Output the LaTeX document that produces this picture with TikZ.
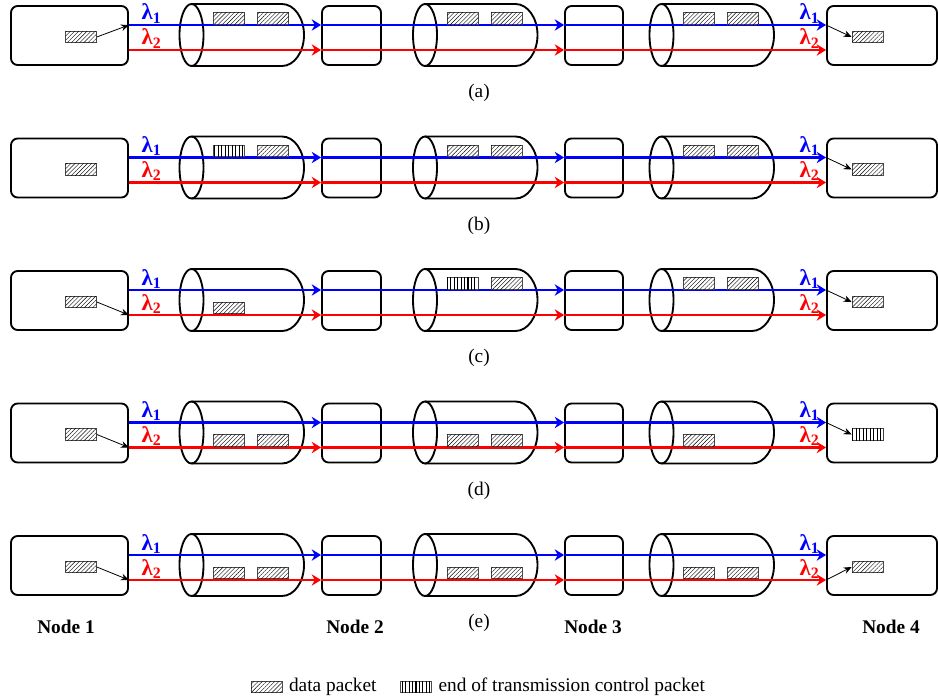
\documentclass[tikz,border=0pt]{standalone}
\usepackage{fontspec}
\setmainfont{Liberation Serif}
\usetikzlibrary{arrows.meta,patterns.meta}

\newcommand\pxu{0.75pt}
% one fibre link: centre of its front ellipse, top of the row
\newcommand\fibre[2]{%
  \draw[link] (#1,#2+4) -- (#1+90.5,#2+4)
    arc[start angle=90,end angle=-90,x radius=22*\pxu,y radius=31*\pxu]
    -- (#1,#2+66);
  \draw[link] (#1,#2+4)
    arc[start angle=90,end angle=450,x radius=12*\pxu,y radius=31*\pxu];
}

\begin{document}
\fontsize{14.5}{17}\selectfont
\begin{tikzpicture}
        [x=\pxu, y=-\pxu, >=Stealth,
        nodebox/.style={draw, line width=1.4pt, rounded corners=5pt,
          minimum height=59*\pxu, inner sep=0pt},
        link/.style={line width=1.4pt},
        packet/.style={draw=black!70, line width=0.5pt, fill=white, inner sep=0pt,
          minimum width=31*\pxu, minimum height=11.5*\pxu},
        data/.style={packet, postaction={pattern={Lines[angle=45,distance=2.2pt,line width=0.3pt]}}},
        eot/.style={packet, postaction={pattern={Lines[angle=90,distance=2.6pt,line width=0.8pt]}}},
        lam1/.style={blue, line width=1.6pt, -{Stealth[length=7pt,width=8.5pt]}},
        lam2/.style={lam1, red},
        hop/.style={line width=0.6pt, -{Stealth[length=6pt,width=5pt]}},
        lamtxt/.style={anchor=base west, font=\fontsize{17}{20}\selectfont\bfseries}]
        \useasboundingbox (0,0) rectangle (938,699);

        % the five snapshots share nodes, fibres and wavelengths
        \foreach \y/\tag in {0/a,132.5/b,265/c,397.5/d,530/e}{
          \node[nodebox, minimum width=117*\pxu] (n1-\tag) at (69.5,\y+35.5) {};
          \node[nodebox, minimum width=59*\pxu] (n2-\tag) at (351.5,\y+35.5) {};
          \node[nodebox, minimum width=58*\pxu] (n3-\tag) at (594,\y+35.5) {};
          \node[nodebox, minimum width=110*\pxu] (n4-\tag) at (882,\y+35.5) {};
          \fibre{191.5}{\y}
          \fibre{425}{\y}
          \fibre{661.5}{\y}
          \coordinate (w1-\tag) at (0,\y+25);
          \coordinate (w2-\tag) at (0,\y+50);
          \draw[lam1] (n1-\tag.east |- w1-\tag) -- (n2-\tag.west |- w1-\tag);
          \draw[lam1] (n2-\tag.west |- w1-\tag) -- (n3-\tag.west |- w1-\tag);
          \draw[lam1] (n3-\tag.west |- w1-\tag) -- (n4-\tag.west |- w1-\tag);
          \draw[lam2] (n1-\tag.east |- w2-\tag) -- (n2-\tag.west |- w2-\tag);
          \draw[lam2] (n2-\tag.west |- w2-\tag) -- (n3-\tag.west |- w2-\tag);
          \draw[lam2] (n3-\tag.west |- w2-\tag) -- (n4-\tag.west |- w2-\tag);
          \node[lamtxt, text=blue] (l1in-\tag) at (135,\y+20) {λ\textsubscript{1}};
          \node[lamtxt, text=red] (l2in-\tag) at (135,\y+45) {λ\textsubscript{2}};
          \node[lamtxt, text=blue] (l1out-\tag) at (793,\y+20) {λ\textsubscript{1}};
          \node[lamtxt, text=red] (l2out-\tag) at (793,\y+45) {λ\textsubscript{2}};
          \node (cap-\tag) at (479,\y+93) {(\tag)};
        }

        % (a)
        \node[data] (a-in) at (81,37) {};
        \node[data] (a-out) at (867.5,37) {};
        \foreach \x [count=\i] in {229,273,462.5,506.5,699,743}
          \node[data] (a-f\i) at (\x,18.5) {};
        \draw[hop] (a-in.east) -- (n1-a.east |- w1-a);
        \draw[hop] (n4-a.west |- w1-a) -- (a-out.west);

        % (b)
        \node[data] (b-in) at (81,169.5) {};
        \node[data] (b-out) at (867.5,169.5) {};
        \node[eot] (b-eot) at (229,151) {};
        \foreach \x [count=\i] in {273,462.5,506.5,699,743}
          \node[data] (b-f\i) at (\x,151) {};
        \draw[hop] (n4-b.west |- w1-b) -- (b-out.west);

        % (c)
        \node[data] (c-in) at (81,302) {};
        \node[data] (c-out) at (867.5,302) {};
        \node[data] (c-f0) at (229,308) {};
        \node[eot] (c-eot) at (462.5,283.5) {};
        \foreach \x [count=\i] in {506.5,699,743}
          \node[data] (c-f\i) at (\x,283.5) {};
        \draw[hop] (c-in.east) -- (n1-c.east |- w2-c);
        \draw[hop] (n4-c.west |- w1-c) -- (c-out.west);

        % (d)
        \node[data] (d-in) at (81,434.5) {};
        \node[eot] (d-eot) at (867.5,434.5) {};
        \foreach \x [count=\i] in {229,273,462.5,506.5,699}
          \node[data] (d-f\i) at (\x,440.5) {};
        \draw[hop] (d-in.east) -- (n1-d.east |- w2-d);
        \draw[hop] (n4-d.west |- w1-d) -- (d-eot.west);

        % (e)
        \node[data] (e-in) at (81,567) {};
        \node[data] (e-out) at (867.5,567) {};
        \foreach \x [count=\i] in {229,273,462.5,506.5,699,743}
          \node[data] (e-f\i) at (\x,573) {};
        \draw[hop] (e-in.east) -- (n1-e.east |- w2-e);
        \draw[hop] (n4-e.west |- w2-e) -- (e-out.west);

        \node[font=\bfseries] (lab1) at (66,627) {Node 1};
        \node[font=\bfseries] (lab2) at (355,627) {Node 2};
        \node[font=\bfseries] (lab3) at (593,627) {Node 3};
        \node[font=\bfseries] (lab4) at (891,627) {Node 4};

        % key
        \node[data] (key1) at (266.5,687) {};
        \node[anchor=west] (key1-txt) at (key1.east) {data packet};
        \node[eot] (key2) at (416,687) {};
        \node[anchor=west] (key2-txt) at (key2.east) {end of transmission control packet};
      \end{tikzpicture}
\end{document}
